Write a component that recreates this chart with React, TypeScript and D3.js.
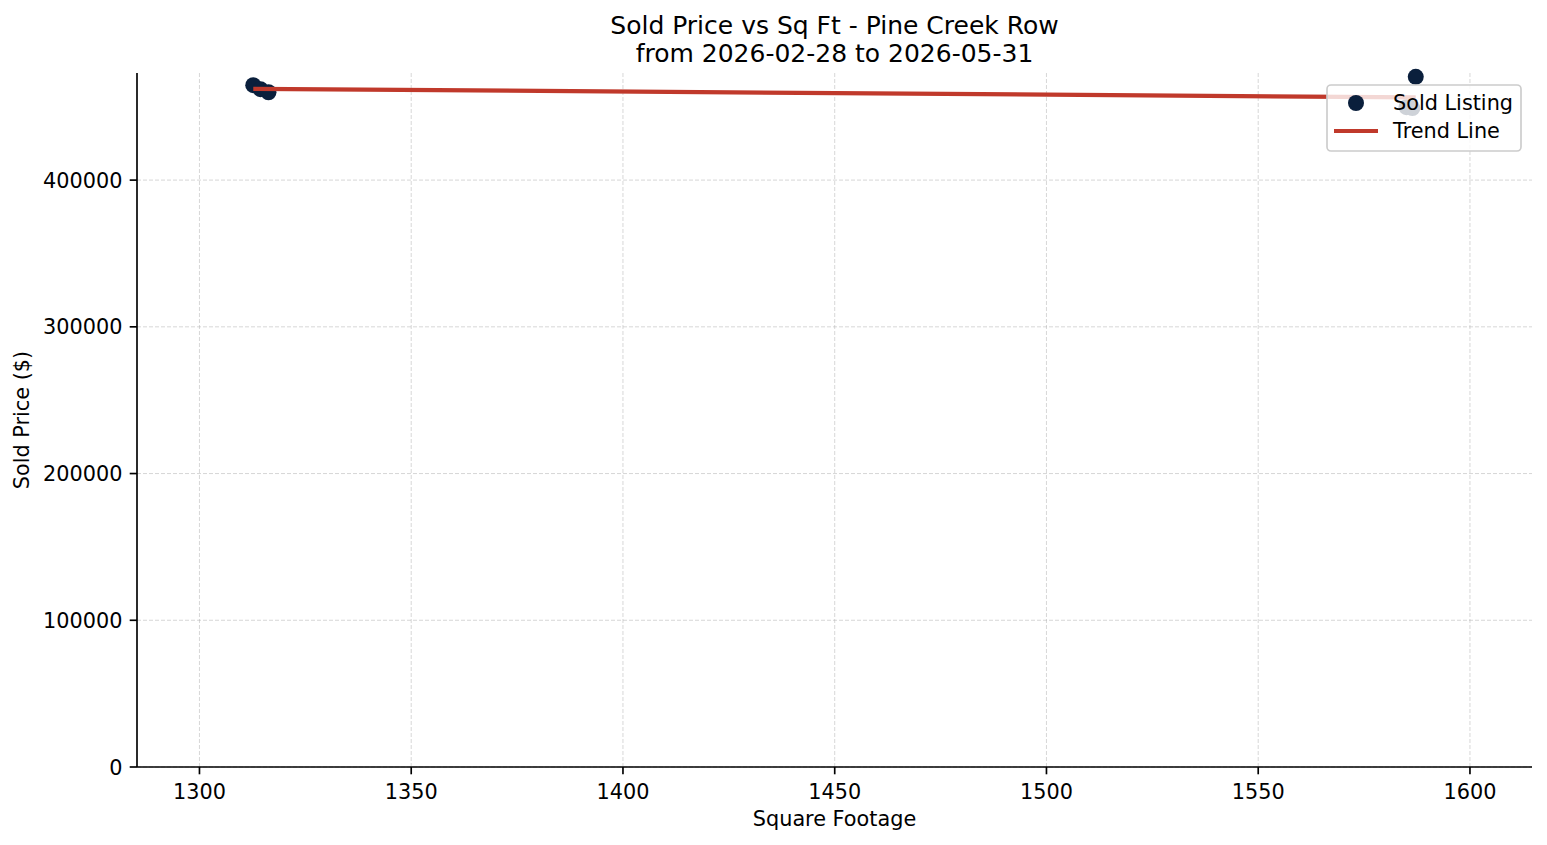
import React from 'react';
import * as d3 from 'd3';

// sold listings
const sqft = [1312.7, 1314.4, 1316.3, 1585.0, 1586.4, 1587.2];
const soldPrice = [464700, 462000, 459900, 449700, 449100, 470400];

const xTicks = [1300, 1350, 1400, 1450, 1500, 1550, 1600];
const yTicks = [0, 100000, 200000, 300000, 400000];

const TITLE = ['Sold Price vs Sq Ft - Pine Creek Row', 'from 2026-02-28 to 2026-05-31'];
const X_LABEL = 'Square Footage';
const Y_LABEL = 'Sold Price ($)';
const LEGEND = ['Sold Listing', 'Trend Line'];

const W = 1547;
const H = 845;
const margin = { top: 73, right: 15, bottom: 78, left: 137 };
const FONT = 'DejaVu Sans, sans-serif';
const FS = 20.8;
const DOT = '#0a1f3c';
const TREND = '#c0392b';

export default function App() {
  const innerW = W - margin.left - margin.right;
  const innerH = H - margin.top - margin.bottom;

  // 10% padding on x like the source figure
  const [xmin, xmax] = d3.extent(sqft) as [number, number];
  const pad = (xmax - xmin) * 0.1;
  const x = d3.scaleLinear().domain([xmin - pad, xmax + pad]).range([0, innerW]);
  const y = d3.scaleLinear().domain([0, 473000]).range([innerH, 0]);

  // least squares fit
  const mx = d3.mean(sqft)!;
  const my = d3.mean(soldPrice)!;
  const slope =
    d3.sum(sqft, (v, i) => (v - mx) * (soldPrice[i] - my)) / d3.sum(sqft, v => (v - mx) ** 2);
  const icpt = my - slope * mx;
  const trend = d3.line<number>().x(v => x(v)).y(v => y(slope * v + icpt));

  const lx = 1327 - margin.left;
  const ly = 85 - margin.top;

  return (
    <svg width={W} height={H} style={{ position: 'absolute', left: 0, top: 0 }} fontFamily={FONT}>
      <rect width={W} height={H} fill="#fff" />
      <g fontSize={25} textAnchor="middle" fill="#000">
        <text x={margin.left + innerW / 2} y={34}>{TITLE[0]}</text>
        <text x={margin.left + innerW / 2} y={62}>{TITLE[1]}</text>
      </g>
      <g transform={`translate(${margin.left},${margin.top})`}>
        {/* grid */}
        {xTicks.map(t => (
          <line key={'gx' + t} x1={x(t)} x2={x(t)} y1={0} y2={innerH}
            stroke="#b0b0b0" strokeOpacity={0.5} strokeWidth={1} strokeDasharray="4,2" />
        ))}
        {yTicks.map(t => (
          <line key={'gy' + t} x1={0} x2={innerW} y1={y(t)} y2={y(t)}
            stroke="#b0b0b0" strokeOpacity={0.5} strokeWidth={1} strokeDasharray="4,2" />
        ))}

        {sqft.map((v, i) => (
          <circle key={i} cx={x(v)} cy={y(soldPrice[i])} r={8} fill={DOT} />
        ))}
        <path d={trend([xmin, xmax])!} fill="none" stroke={TREND} strokeWidth={4.2} />

        {/* axes */}
        <line x1={0} x2={0} y1={0} y2={innerH} stroke="#000" strokeWidth={1.67} />
        <line x1={0} x2={innerW} y1={innerH} y2={innerH} stroke="#000" strokeWidth={1.67} />
        {xTicks.map(t => (
          <g key={'xt' + t} transform={`translate(${x(t)},${innerH})`}>
            <line y2={7.3} stroke="#000" strokeWidth={1.67} />
            <text y={32} fontSize={FS} textAnchor="middle">{t}</text>
          </g>
        ))}
        {yTicks.map(t => (
          <g key={'yt' + t} transform={`translate(0,${y(t)})`}>
            <line x2={-7.3} stroke="#000" strokeWidth={1.67} />
            <text x={-14.6} dy="0.36em" fontSize={FS} textAnchor="end">{t}</text>
          </g>
        ))}
        <text x={innerW / 2} y={innerH + 59} fontSize={FS} textAnchor="middle">{X_LABEL}</text>
        <text transform={`translate(${-108},${innerH / 2}) rotate(-90)`} fontSize={FS} textAnchor="middle">{Y_LABEL}</text>

        {/* legend */}
        <g transform={`translate(${lx},${ly})`}>
          <rect width={194} height={66} rx={4} fill="#fff" fillOpacity={0.8} stroke="#cccccc" strokeWidth={1.67} />
          <circle cx={29} cy={18} r={8} fill={DOT} />
          <line x1={7} x2={51} y1={46} y2={46} stroke={TREND} strokeWidth={4.2} />
          <text x={66} y={18} dy="0.36em" fontSize={FS}>{LEGEND[0]}</text>
          <text x={66} y={46} dy="0.36em" fontSize={FS}>{LEGEND[1]}</text>
        </g>
      </g>
    </svg>
  );
}
